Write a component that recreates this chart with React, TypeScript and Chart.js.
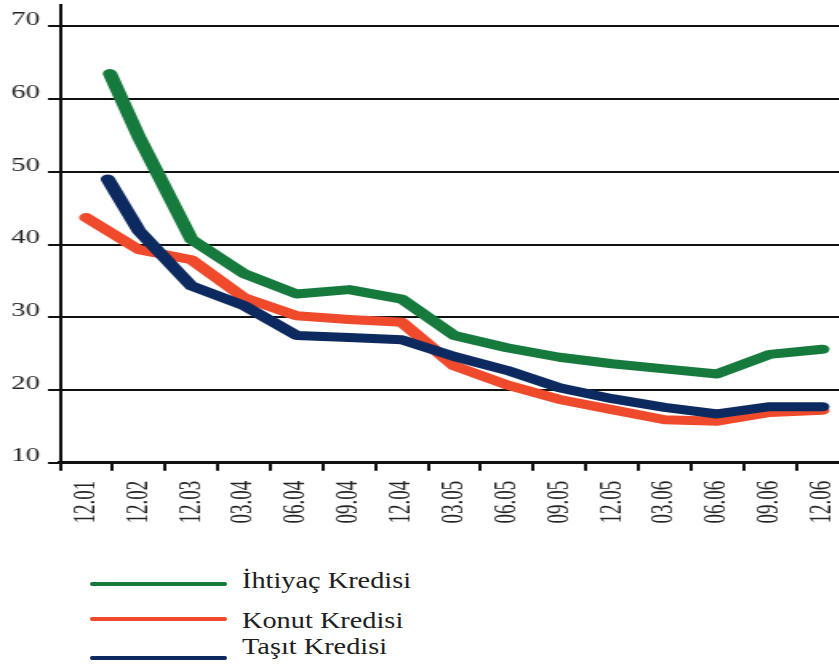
import { useEffect, useRef } from "react";
import { Chart, registerables } from "chart.js";

Chart.register(...registerables);

// Period labels (month.year)
const periods = [
  "12.01", "12.02", "12.03", "03.04", "06.04", "09.04", "12.04", "03.05",
  "06.05", "09.05", "12.05", "03.06", "06.06", "09.06", "12.06",
];

// Positions along the period axis (0 = first period); two series start during 2002
const ihtiyacAt = [0.45, 1, 2, 3, 4, 5, 6, 7, 8, 9, 10, 11, 12, 13, 14];
const ihtiyac = [63.5, 54.8, 40.7, 36.0, 33.2, 33.8, 32.5, 27.5, 25.8, 24.5, 23.6, 22.9, 22.2, 24.9, 25.6];

const konutAt = [0, 1, 2, 3, 4, 5, 6, 7, 8, 9, 10, 11, 12, 13, 14];
const konut = [43.7, 39.3, 37.9, 32.7, 30.2, 29.7, 29.3, 23.3, 20.7, 18.7, 17.3, 15.9, 15.7, 16.9, 17.2];

const tasitAt = [0.41, 1, 2, 3, 4, 5, 6, 7, 8, 9, 10, 11, 12, 13, 14];
const tasit = [49.0, 41.9, 34.3, 31.6, 27.5, 27.2, 26.9, 24.6, 22.7, 20.3, 18.8, 17.6, 16.7, 17.7, 17.7];

const seriesNames = ["İhtiyaç Kredisi", "Konut Kredisi", "Taşıt Kredisi"];
const seriesColors = ["#177a3d", "#ef4a2b", "#0c2a60"];

const FONT = "'Liberation Serif', 'Times New Roman', serif";
// the chart is drawn narrow and widened, which gives its type the wide look
const STRETCH = 1.6;

const toPoints = (xs: number[], ys: number[]) => xs.map((x, i) => ({ x, y: ys[i] }));

export default function App() {
  const canvasRef = useRef<HTMLCanvasElement>(null);

  useEffect(() => {
    const canvas = canvasRef.current;
    if (!canvas) return;
    Chart.defaults.font.family = FONT;

    const series = [toPoints(ihtiyacAt, ihtiyac), toPoints(konutAt, konut), toPoints(tasitAt, tasit)];
    // Taşıt drawn above Konut where they overlap
    const drawOrder = [0, 2, 1];

    const chart = new Chart(canvas, {
      type: "line",
      data: {
        datasets: series.map((data, i) => ({
          label: seriesNames[i],
          data,
          borderColor: seriesColors[i],
          backgroundColor: seriesColors[i],
          borderWidth: 9,
          borderCapStyle: "round",
          borderJoinStyle: "round",
          pointRadius: 0,
          tension: 0,
          fill: false,
          order: drawOrder[i],
        })),
      },
      options: {
        animation: false,
        responsive: false,
        devicePixelRatio: 1,
        layout: { padding: { top: 4.5, right: 3.6, left: 0, bottom: 0 } },
        plugins: { legend: { display: false }, tooltip: { enabled: false } },
        scales: {
          x: {
            type: "linear",
            min: -0.5,
            max: 14.5,
            afterBuildTicks: (s: any) => {
              s.ticks = periods.map((_, i) => ({ value: i }));
            },
            afterFit: (s: any) => {
              s.height = 77.3;
              s.paddingLeft = 0;
              s.paddingRight = 0;
            },
            ticks: {
              autoSkip: false,
              minRotation: 90,
              maxRotation: 90,
              padding: 10,
              color: "#222",
              font: { size: 19, family: FONT },
              callback: (_v: any, i: number) => periods[i],
            },
            grid: {
              drawOnChartArea: false,
              drawTicks: true,
              tickLength: 8,
              lineWidth: 2,
              color: "#111",
              offset: true,
            },
            border: { display: true, color: "#111", width: 3 },
          },
          y: {
            min: 10,
            max: 73,
            afterFit: (s: any) => {
              s.width = 37.5;
              s.paddingTop = 0;
              s.paddingBottom = 0;
            },
            ticks: {
              stepSize: 10,
              includeBounds: false,
              padding: 5,
              labelOffset: -6,
              color: "#222",
              font: { size: 18, family: FONT },
            },
            grid: { color: "#111", lineWidth: 2, tickLength: 7.5, drawTicks: true },
            border: { display: true, color: "#111", width: 2 },
          },
        },
      },
    } as any);

    return () => chart.destroy();
  }, []);

  // legend rows: line centre y and text cap-centre y
  const lineY = [584, 619, 658];
  const textY = [580, 620, 646.5];

  return (
    <div
      style={{
        position: "absolute",
        left: 0,
        top: 0,
        width: 839,
        height: 666,
        overflow: "hidden",
        background: "#fff",
      }}
    >
      <div
        style={{
          position: "absolute",
          left: 0,
          top: 0,
          width: 534,
          height: 540,
          transform: `scaleX(${STRETCH})`,
          transformOrigin: "0 0",
        }}
      >
        <canvas ref={canvasRef} width={534} height={540} style={{ display: "block" }} />
      </div>
      {seriesNames.map((name, i) => (
        <div key={name}>
          <div
            style={{
              position: "absolute",
              left: 90,
              top: lineY[i] - 2,
              width: 137,
              height: 4,
              borderRadius: 2,
              background: seriesColors[i],
            }}
          />
          <div
            style={{
              position: "absolute",
              left: 242,
              top: textY[i] - 12.15,
              fontFamily: FONT,
              fontSize: 24,
              lineHeight: "24px",
              color: "#1e1e1e",
              whiteSpace: "nowrap",
              transform: "scaleX(1.18)",
              transformOrigin: "0 0",
            }}
          >
            {name}
          </div>
        </div>
      ))}
    </div>
  );
}
